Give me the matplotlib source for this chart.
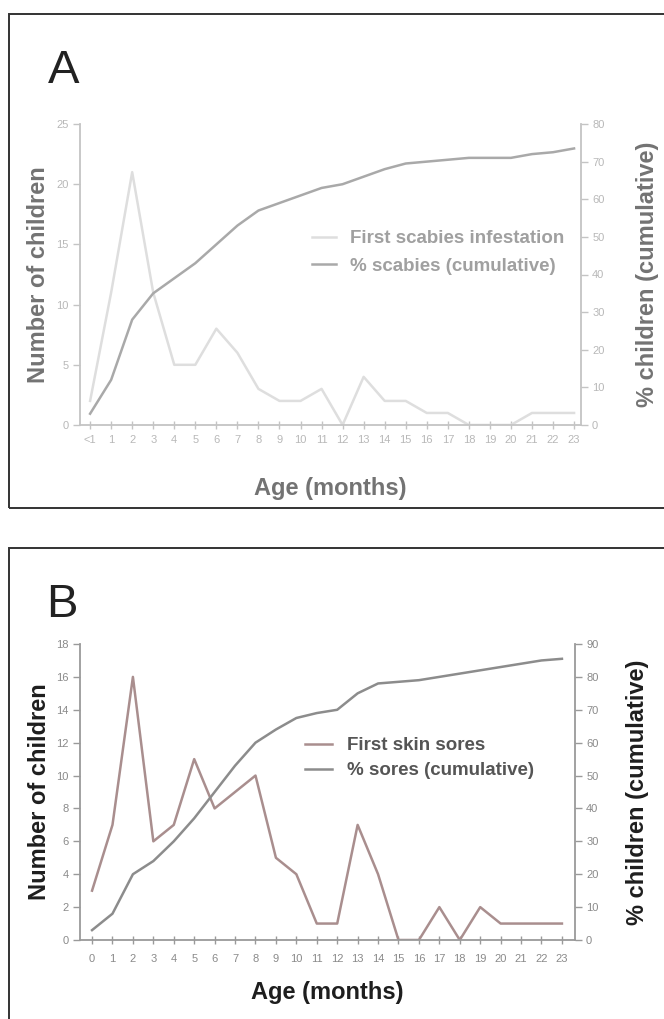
import numpy as np
import matplotlib
matplotlib.use("Agg")
import matplotlib.pyplot as plt
from matplotlib.patches import Rectangle

plt.rcParams["font.family"] = ["Liberation Sans", "DejaVu Sans"]

W, H = 664, 1019

# ---- data ----
months = list(range(24))

# Panel A: scabies
a_xlabels = ["<1"] + [str(m) for m in range(1, 24)]
a_first = [2, 11, 21, 11, 5, 5, 8, 6, 3, 2, 2, 3, 0, 4, 2, 2, 1, 1, 0, 0, 0, 1, 1, 1]
a_cum = [3, 12, 28, 35, 39, 43, 48, 53, 57, 59, 61, 63, 64, 66, 68, 69.5, 70, 70.5,
         71, 71, 71, 72, 72.5, 73.5]
a_left_ticks = [0, 5, 10, 15, 20, 25]
a_right_ticks = [0, 10, 20, 30, 40, 50, 60, 70, 80]

# Panel B: skin sores
b_xlabels = [str(m) for m in range(24)]
b_first = [3, 7, 16, 6, 7, 11, 8, 9, 10, 5, 4, 1, 1, 7, 4, 0, 0, 2, 0, 2, 1, 1, 1, 1]
b_cum = [3, 8, 20, 24, 30, 37, 45, 53, 60, 64, 67.5, 69, 70, 75, 78, 78.5, 79, 80,
         81, 82, 83, 84, 85, 85.5]
b_left_ticks = list(range(0, 20, 2))
b_right_ticks = list(range(0, 100, 10))


def px_axes(fig, left, right, top, bottom):
    return fig.add_axes([left / W, 1 - bottom / H, (right - left) / W, (bottom - top) / H])


def style(ax, ax2, spine_c, tick_c, xpad):
    for a in (ax, ax2):
        a.spines["top"].set_visible(False)
        for s in ("left", "right", "bottom"):
            a.spines[s].set_color(spine_c)
            a.spines[s].set_linewidth(1.3)
    ax.spines["right"].set_visible(False)
    ax2.spines["left"].set_visible(False)
    ax2.spines["bottom"].set_visible(False)
    ax.tick_params(axis="y", direction="out", length=5, width=1, color=spine_c,
                   labelsize=8, labelcolor=tick_c, pad=3)
    ax.tick_params(axis="x", direction="inout", length=6, width=1, color=spine_c,
                   labelsize=8, labelcolor=tick_c, pad=xpad)
    ax2.tick_params(axis="y", direction="out", length=5, width=1, color=spine_c,
                    labelsize=8, labelcolor=tick_c, pad=3)


fig = plt.figure(figsize=(W / 100, H / 100), dpi=100)

# panel frames
for (x0, y0, x1, y1) in [(9, 14, 680, 508), (9, 548, 680, 1030)]:
    fig.patches.append(Rectangle((x0 / W, 1 - y1 / H), (x1 - x0) / W, (y1 - y0) / H,
                                 transform=fig.transFigure, fill=False,
                                 edgecolor="#333333", linewidth=1.4))

# ---------- Panel A ----------
axA = px_axes(fig, 80, 581, 124, 425)
axA2 = axA.twinx()
lA1, = axA.plot(months, a_first, color="#dedede", lw=1.8, label="First scabies infestation")
lA2, = axA2.plot(months, a_cum, color="#a9a9a9", lw=1.8, label="% scabies (cumulative)")
axA.set_xlim(-0.48, 23.33)
axA.set_ylim(0, 25)
axA2.set_ylim(0, 80)
axA.set_xticks(months)
axA.set_xticklabels(a_xlabels)
axA.set_yticks(a_left_ticks)
axA2.set_yticks(a_right_ticks)
style(axA, axA2, "#c4c4c4", "#b8b8b8", 4)
axA.set_ylabel("Number of children", fontsize=17, fontweight="bold", color="#737373", labelpad=5)
axA2.set_ylabel("% children (cumulative)", fontsize=17, fontweight="bold", color="#737373",
                labelpad=23)
axA.set_xlabel("Age (months)", fontsize=17, fontweight="bold", color="#737373", labelpad=23)
axA2.legend(handles=[lA1, lA2], loc="upper left", frameon=False,
            bbox_to_anchor=(312 / W, 1 - 230 / H), bbox_transform=fig.transFigure,
            borderpad=0, borderaxespad=0, handlelength=1.3, handletextpad=0.75,
            labelspacing=0.55, prop={"size": 13.5, "weight": "bold"}, labelcolor="#a0a0a0")
fig.text(48 / W, 1 - 83 / H, "A", fontsize=34, color="#222222", ha="left", va="baseline")

# ---------- Panel B ----------
axB = px_axes(fig, 80, 575, 644, 940)
axB2 = axB.twinx()
lB1, = axB.plot(months, b_first, color="#a98e8e", lw=1.8, label="First skin sores")
lB2, = axB2.plot(months, b_cum, color="#8c8c8c", lw=1.8, label="% sores (cumulative)")
axB.set_xlim(-0.59, 23.64)
axB.set_ylim(0, 18)
axB2.set_ylim(0, 90)
axB.set_xticks(months)
axB.set_xticklabels(b_xlabels)
axB.set_yticks(b_left_ticks)
axB2.set_yticks(b_right_ticks)
style(axB, axB2, "#9a9a9a", "#8a8a8a", 7)
axB.set_ylabel("Number of children", fontsize=17, fontweight="bold", color="#1e1e1e", labelpad=4)
axB2.set_ylabel("% children (cumulative)", fontsize=17, fontweight="bold", color="#1e1e1e",
                labelpad=20)
axB.set_xlabel("Age (months)", fontsize=17, fontweight="bold", color="#1e1e1e", labelpad=12)
axB2.legend(handles=[lB1, lB2], loc="upper left", frameon=False,
            bbox_to_anchor=(305 / W, 1 - 737 / H), bbox_transform=fig.transFigure,
            borderpad=0, borderaxespad=0, handlelength=1.45, handletextpad=0.8,
            labelspacing=0.42, prop={"size": 13.5, "weight": "bold"}, labelcolor="#555555")
fig.text(46 / W, 1 - 617 / H, "B", fontsize=34, color="#222222", ha="left", va="baseline")

fig.savefig("out.png", dpi=100)
